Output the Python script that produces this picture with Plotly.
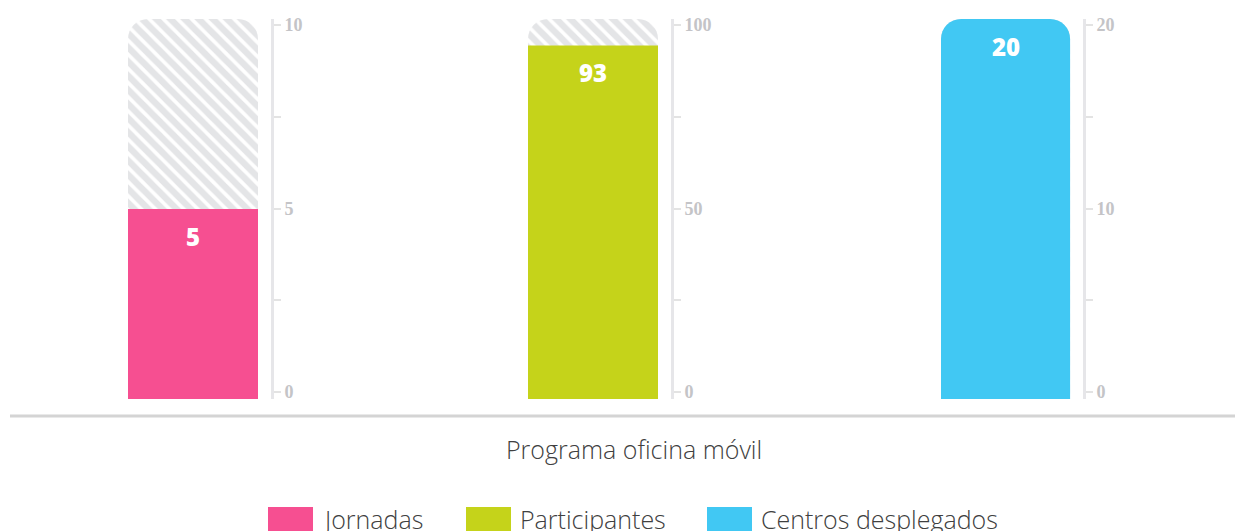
import plotly.graph_objects as go

# ---- data ----
categories = ["Jornadas", "Participantes", "Centros desplegados"]
values = [5, 93, 20]
maxima = [10, 100, 20]
colors = ["#f64f91", "#c5d31a", "#41c8f3"]
tick_vals = [[0, 2.5, 5, 7.5, 10], [0, 25, 50, 75, 100], [0, 5, 10, 15, 20]]
tick_text = [["0", "", "5", "", "10"], ["0", "", "50", "", "100"], ["0", "", "10", "", "20"]]
title_text = "Programa oficina móvil"

# ---- layout constants (pixels, as seen in the page) ----
W, H = 1243, 531
OFF = 8  # page body margin offset
PLOT_TOP, PLOT_BOTTOM = 19, 399
MT = PLOT_TOP - OFF
MB = H - (PLOT_BOTTOM - OFF)
PLOT_H = H - MT - MB
TICK_INSET_BOTTOM, TICK_INSET_TOP = 7, 6  # scale axis is slightly inset from the bars
domains_px = [(128, 271), (528, 671), (941, 1083)]
legend_x_px = [268, 466, 707]


def px(xpix):
    return (xpix - OFF) / W


def py(ypix):
    """page pixel y (from top) -> paper y"""
    return (PLOT_BOTTOM - ypix) / PLOT_H


fig = go.Figure()
layout_axes = {}
annotations = []
for i, cat in enumerate(categories):
    n = "" if i == 0 else str(i + 1)
    xa, ya = "x" + n, "y" + n
    k = str(i + 4)
    fig.add_trace(go.Bar(
        x=[0], y=[maxima[i]], width=[1], xaxis=xa, yaxis=ya,
        marker=dict(color="white", cornerradius=20, line_width=0,
                    pattern=dict(shape="\\", fgcolor="#cacbcf", bgcolor="white",
                                 size=10, solidity=0.65)),
        hoverinfo="skip", showlegend=False))
    fig.add_trace(go.Bar(
        x=[0], y=[values[i]], width=[1], xaxis=xa, yaxis=ya, name=cat,
        marker=dict(color=colors[i], line_width=0,
                    cornerradius=20 if values[i] >= maxima[i] else 0),
        showlegend=False))
    # empty trace so the scale axis gets drawn
    fig.add_trace(go.Scatter(x=[], y=[], xaxis=xa, yaxis="y" + k,
                             hoverinfo="skip", showlegend=False))
    x0, x1 = domains_px[i]
    layout_axes["xaxis" + n] = dict(domain=[px(x0), px(x1)], range=[-0.5, 0.6],
                                    visible=False, anchor=ya, fixedrange=True)
    layout_axes["yaxis" + n] = dict(domain=[0, 1], anchor=xa, range=[0, maxima[i]],
                                    visible=False, fixedrange=True)
    # scale axis (ticks + labels), slightly inset like the reference
    usable = PLOT_H - TICK_INSET_BOTTOM - TICK_INSET_TOP
    lo = -TICK_INSET_BOTTOM / usable * maxima[i]
    hi = maxima[i] + TICK_INSET_TOP / usable * maxima[i]
    layout_axes["yaxis" + k] = dict(
        overlaying=ya, anchor=xa, side="right", range=[lo, hi],
        showgrid=False, zeroline=False, showline=True, linecolor="#e6e6e9",
        linewidth=3, ticks="outside", ticklen=7, tickwidth=1.5, tickcolor="#e3e3e3",
        tickvals=tick_vals[i], ticktext=tick_text[i],
        tickfont=dict(family="Liberation Serif", size=18, color="#c4c4c7", weight="bold"),
        fixedrange=True)
    annotations.append(dict(
        x=0, y=values[i], xref=xa, yref=ya, yshift=-27, showarrow=False,
        text=str(values[i]),
        font=dict(family="Open Sans", size=24, color="white", weight=800)))

shapes = [dict(type="line", xref="paper", yref="paper", x0=px(10), x1=1,
               y0=py(416), y1=py(416), line=dict(color="#d4d4d4", width=3))]

annotations.append(dict(x=px(634), y=py(449), xref="paper", yref="paper",
                        showarrow=False, text=title_text, xanchor="center", yanchor="middle",
                        font=dict(family="Open Sans", size=25, color="#404040", weight=300)))

for i, cat in enumerate(categories):
    lx = legend_x_px[i]
    shapes.append(dict(type="rect", xref="paper", yref="paper",
                       x0=px(lx), x1=px(lx + 45), y0=py(540), y1=py(507),
                       fillcolor=colors[i], line_width=0))
    annotations.append(dict(x=px(lx + 52), y=py(519), xref="paper", yref="paper",
                            showarrow=False, text=cat, xanchor="left", yanchor="middle",
                            font=dict(family="Open Sans", size=25, color="#404040", weight=300)))

fig.update_layout(
    width=W, height=H, margin=dict(l=0, r=0, t=MT, b=MB),
    paper_bgcolor="white", plot_bgcolor="white",
    barmode="overlay", showlegend=False,
    shapes=shapes, annotations=annotations, **layout_axes)

fig.write_html("out.html")
